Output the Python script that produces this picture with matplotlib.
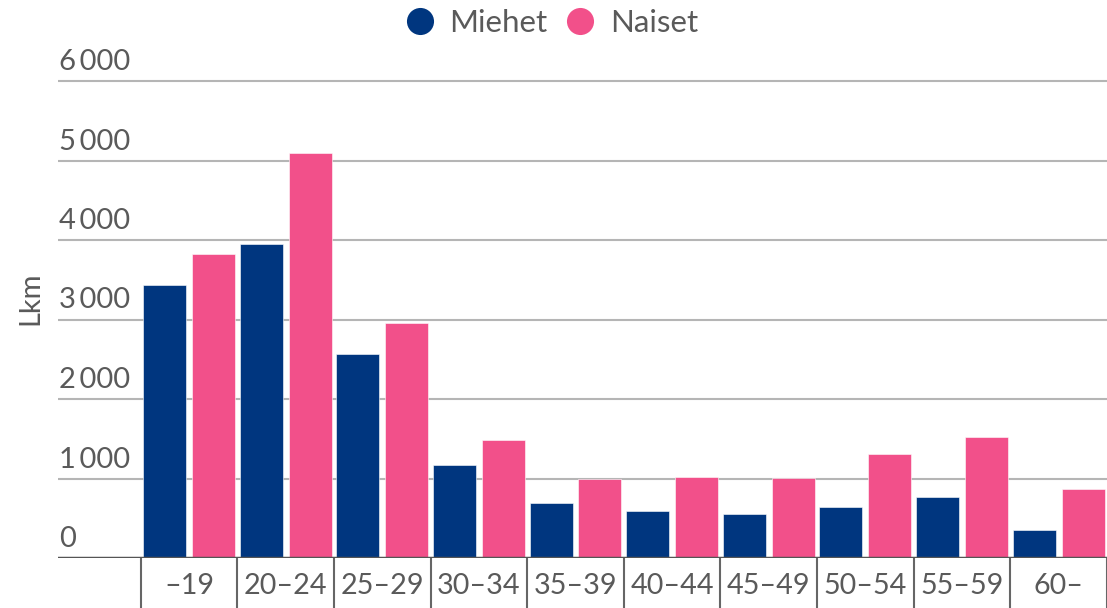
import matplotlib
matplotlib.use("Agg")
import matplotlib.pyplot as plt
from matplotlib.lines import Line2D
import matplotlib.transforms as mtransforms
import numpy as np

plt.rcParams['font.family'] = ['Lato', 'DejaVu Sans']

categories = ["–19", "20–24", "25–29", "30–34", "35–39", "40–44", "45–49", "50–54", "55–59", "60–"]
miehet = [3430, 3945, 2570, 1170, 690, 590, 555, 640, 765, 355]
naiset = [3830, 5100, 2955, 1485, 995, 1020, 1005, 1305, 1525, 870]
series_names = ["Miehet", "Naiset"]
colors = ["#00367F", "#F2508A"]
yticks = [0, 1000, 2000, 3000, 4000, 5000, 6000]
ytick_labels = ["0", "1\u2009000", "2\u2009000", "3\u2009000", "4\u2009000", "5\u2009000", "6\u2009000"]
ylabel = "Lkm"

TEXT = "#5a5a5a"
W, H = 1107, 608
fig = plt.figure(figsize=(W / 100, H / 100), dpi=100)
ax_left, ax_right = 58, 1107
ax_bottom_px, ax_top_px = 558, 65
ax = fig.add_axes([ax_left / W, 1 - ax_bottom_px / H, (ax_right - ax_left) / W,
                   (ax_bottom_px - ax_top_px) / H])

x = np.arange(len(categories))
bw = 0.445
off = 0.253
ax.bar(x - off, miehet, width=bw, color=colors[0], zorder=3, edgecolor='white', linewidth=0.4)
ax.bar(x + off, naiset, width=bw, color=colors[1], zorder=3, edgecolor='white', linewidth=0.4)

cat_px = 97.0
first_edge = 141
xl = -0.5 - (first_edge - ax_left) / cat_px
xr = -0.5 + (ax_right - first_edge) / cat_px
ax.set_xlim(xl, xr)
ymax = 6000 * (ax_bottom_px - ax_top_px) / (558 - 81)
ax.set_ylim(0, ymax)

# gridlines
for v in yticks[1:]:
    ax.axhline(v, color="#b5b5b5", linewidth=1.5, zorder=1)
ax.axhline(0, color="#555555", linewidth=2.5, zorder=4)

# y tick labels above gridlines
ax.set_yticks([])
trans = mtransforms.blended_transform_factory(ax.transAxes, ax.transData)
for v, lab in zip(yticks, ytick_labels):
    ax.text(0.001, v, lab, transform=mtransforms.offset_copy(trans, fig=fig, y=6, units='dots'),
            ha='left', va='bottom', fontsize=21, color=TEXT)

# x ticks: boundaries as major ticks, labels as minor
ax.set_xticks(np.arange(len(categories) + 1) - 0.5)
ax.set_xticklabels([])
ax.tick_params(axis='x', which='major', length=36, width=1.5, color="#666666", direction='out')
ax.set_xticks(x, minor=True)
ax.set_xticklabels(categories, minor=True)
ax.tick_params(axis='x', which='minor', length=0, pad=11, labelsize=20.7, labelcolor=TEXT)

for s in ax.spines.values():
    s.set_visible(False)

ax.set_ylabel(ylabel, fontsize=21, color=TEXT)
ax.yaxis.set_label_coords(-(58 - 43) / (ax_right - ax_left), (558 - 298) / (558 - 65))

handles = [Line2D([], [], marker='o', linestyle='none', markersize=19.5, markeredgewidth=0,
                  markerfacecolor=c) for c in colors]
fig.legend(handles, series_names, loc='center', bbox_to_anchor=(551 / W, 1 - 23 / H),
           ncol=2, frameon=False, fontsize=22.5, labelcolor=TEXT,
           handletextpad=0.45, columnspacing=0.55, handlelength=1.0)

fig.savefig("out.png", dpi=100)
